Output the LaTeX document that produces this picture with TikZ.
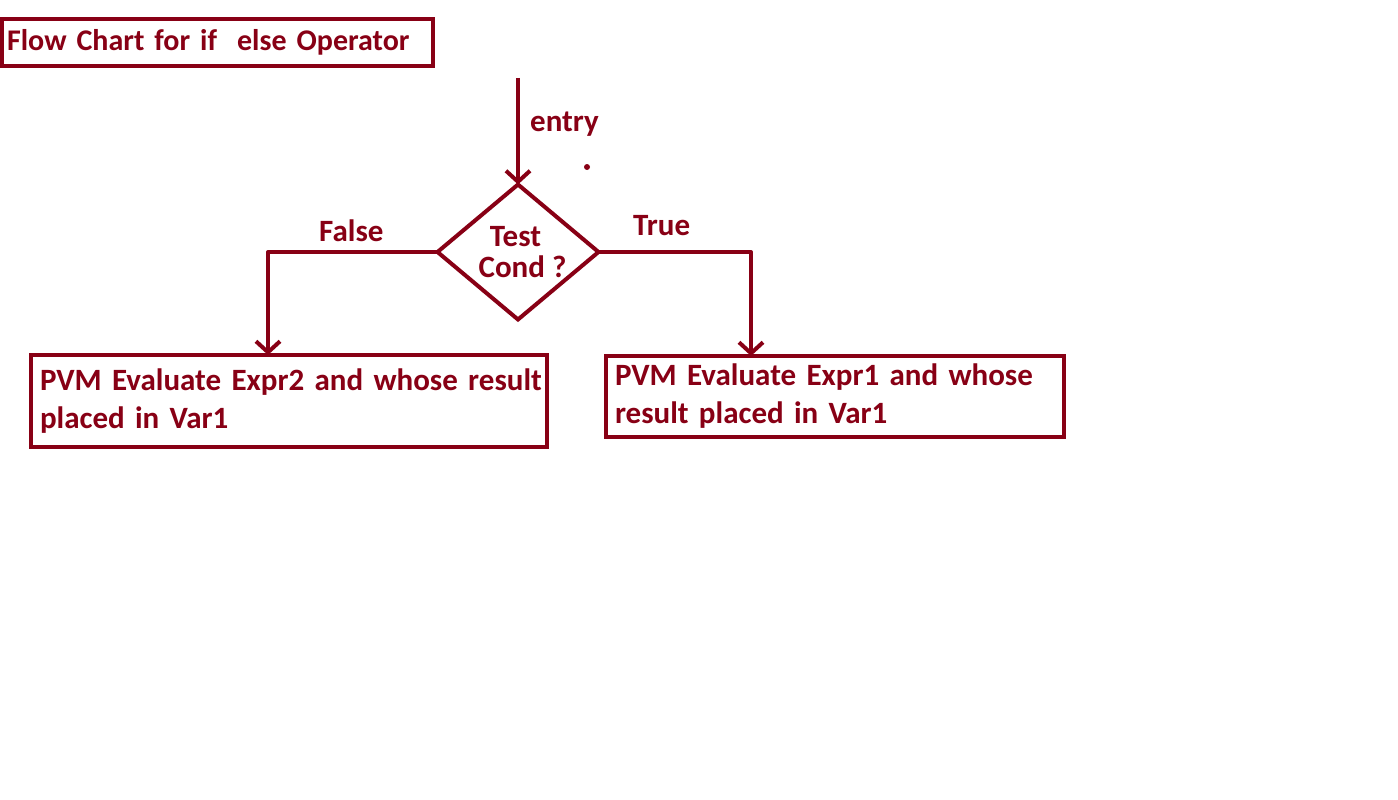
\documentclass[tikz,border=0pt]{standalone}
\usepackage{fontspec}
\setmainfont{Carlito}
\usetikzlibrary{shapes.geometric,arrows.meta}
\definecolor{dred}{RGB}{136,0,21}
\begin{document}
\begin{tikzpicture}[x=1pt,y=-1pt,
  txt/.style={text=dred, font=\bfseries\fontsize{31}{38}\selectfont},
  boxstyle/.style={txt, draw=dred, line width=4.5pt, rectangle, outer sep=0pt, align=left, anchor=north west, inner ysep=0pt},
  lbl/.style={txt, inner sep=0pt, anchor=base west},
  conn/.style={draw=dred, line width=4pt, line join=round, -{Straight Barb[length=11pt,width=24pt]}}]
\useasboundingbox[fill=white] (0,0) rectangle (1398,800);
\node[boxstyle, minimum width=431pt, minimum height=47pt, inner xsep=5pt, text width=421pt,
      font=\bfseries\fontsize{30}{34}\selectfont] (title) at (2,19) {Flow Chart for if\ \ else Operator};
\node[boxstyle, minimum width=516pt, minimum height=92pt, inner xsep=9pt, text width=498pt] (lbox) at (31,355)
  {\mbox{PVM Evaluate Expr2 and whose result}\\\mbox{placed in Var1}};
\node[boxstyle, minimum width=458pt, minimum height=81pt, inner xsep=9pt, text width=440pt] (rbox) at (606,356)
  {\mbox{PVM Evaluate Expr1 and whose}\\\mbox{result placed in Var1}};
\node[txt, diamond, draw=dred, line width=4pt, minimum width=161pt, minimum height=135pt, inner sep=0pt, outer sep=0pt,
      align=center, font=\bfseries\fontsize{31}{31}\selectfont] (dia) at (518,252)
  {\makebox[0pt]{\hspace{-5pt}Test}\\\makebox[0pt]{\hspace{9pt}Cond ?}};
\coordinate (entry) at (518,78);
\draw[conn] (entry) -- (dia.north);
\draw[conn] (dia.west) -| ([xshift=-21pt]lbox.north);
\draw[conn] (dia.east) -| ([xshift=-84pt]rbox.north);
\node[lbl] (lentry) at (530,131) {entry};
\node[lbl] (lfalse) at (319,241) {False};
\node[lbl] (ltrue) at (633,235) {True};
\fill[dred] (587,167) circle (3pt);
\end{tikzpicture}
\end{document}
